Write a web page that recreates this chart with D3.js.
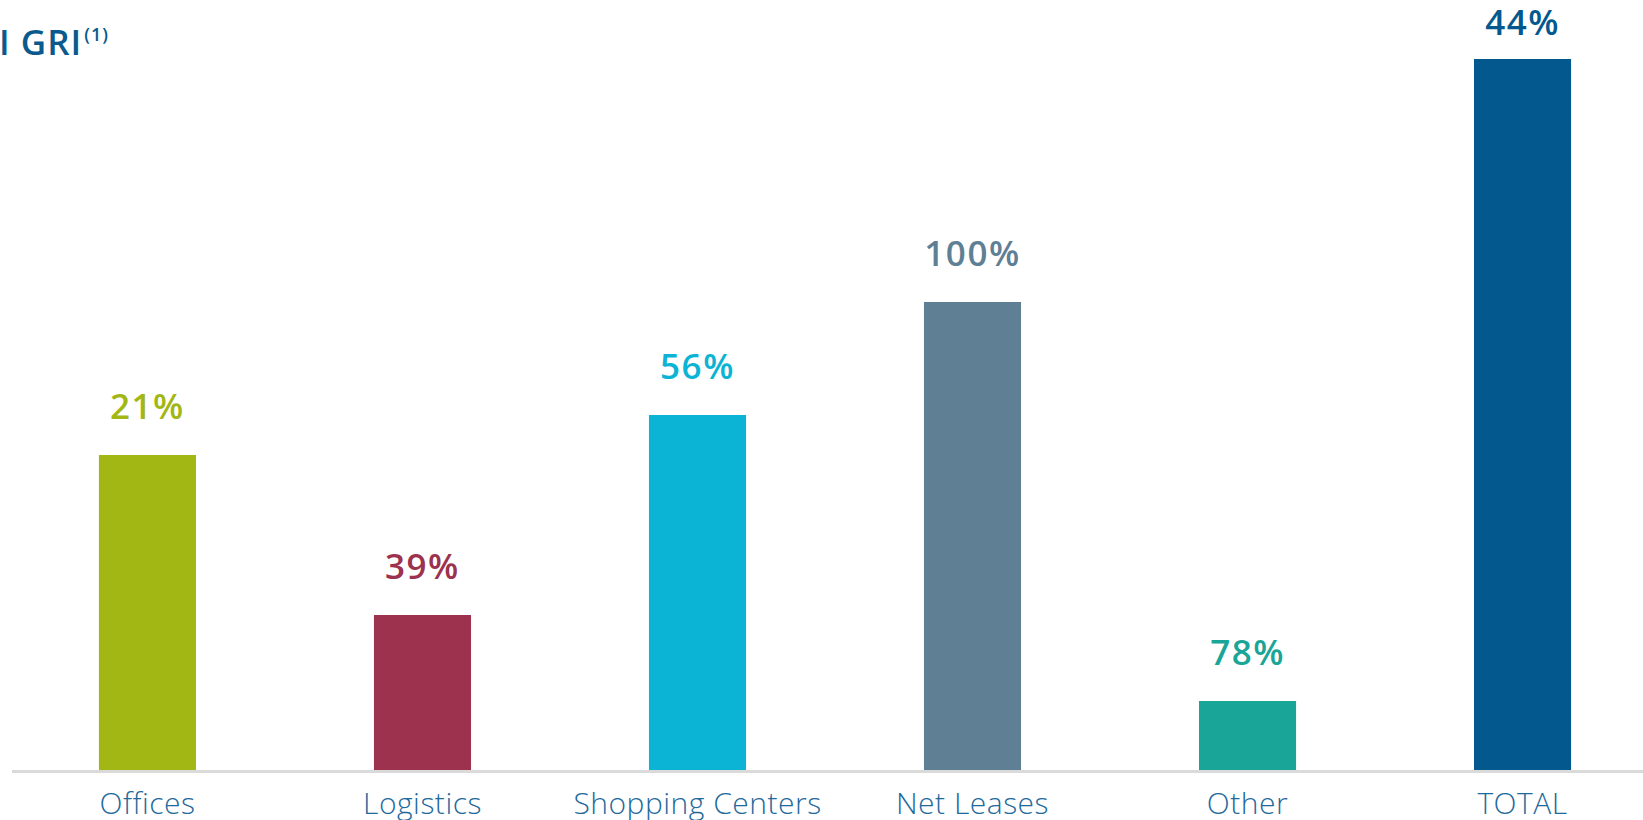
<!DOCTYPE html>
<html>
<head>
<meta charset="utf-8">
<script src="https://cdn.jsdelivr.net/npm/d3@7"></script>
<style>
	html, body { margin: 0; padding: 0; background: #fff; overflow: hidden; }
	svg { display: block; font-family: 'Open Sans', sans-serif; }
</style>
</head>
<body>
<div id="chart"></div>
<script>

// bar heights, labels as printed above each bar
var categories = [ 'Offices', 'Logistics', 'Shopping Centers', 'Net Leases', 'Other', 'TOTAL' ];
var values = [ 315, 155, 355, 468, 69, 711 ];
var labels = [ '21%', '39%', '56%', '100%', '78%', '44%' ];
var colors = [ '#a2b713', '#9c324d', '#0bb3d4', '#5f8094', '#19a597', '#03598e' ];

var width = 1643,
	height = 820;

var chart = {
	baseline: 770,
	top: 59,
	labelGap: 36,
	labelMin: 35
};

var svg = d3.select( '#chart' ).append( 'svg' )
	.attr( 'width', width )
	.attr( 'height', height );

var x = d3.scaleBand()
	.domain( categories )
	.range( [ -79, 1749 ] )
	.padding( 0.647 );

var y = d3.scaleLinear()
	.domain( [ 0, d3.max( values ) ] )
	.range( [ chart.baseline, chart.top ] );

var data = categories.map( function ( c, i ) {
	return { name: c, value: values[i], label: labels[i], color: colors[i] };
} );

// title, cut off on the left like the original slide
var title = svg.append( 'text' )
	.attr( 'x', -1 )
	.attr( 'y', 55 )
	.style( 'font-size', '35px' )
	.style( 'font-weight', 600 )
	.style( 'letter-spacing', '1px' )
	.style( 'fill', '#0a5a8e' );
title.append( 'tspan' ).text( 'I GRI' );
title.append( 'tspan' )
	.attr( 'dy', -14 )
	.attr( 'dx', 2 )
	.style( 'font-size', '18px' )
	.text( '(1)' );

svg.append( 'g' ).selectAll( 'rect' )
	.data( data )
	.join( 'rect' )
	.attr( 'x', function ( d ) { return x( d.name ); } )
	.attr( 'y', function ( d ) { return y( d.value ); } )
	.attr( 'width', x.bandwidth() )
	.attr( 'height', function ( d ) { return y( 0 ) - y( d.value ); } )
	.style( 'fill', function ( d ) { return d.color; } );

svg.append( 'g' ).selectAll( 'text' )
	.data( data )
	.join( 'text' )
	.attr( 'x', function ( d ) { return x( d.name ) + x.bandwidth() / 2; } )
	.attr( 'y', function ( d ) { return Math.max( y( d.value ) - chart.labelGap, chart.labelMin ); } )
	.attr( 'text-anchor', 'middle' )
	.style( 'font-size', '35px' )
	.style( 'font-weight', 600 )
	.style( 'letter-spacing', '1.5px' )
	.style( 'fill', function ( d ) { return d.color; } )
	.text( function ( d ) { return d.label; } );

var xAxis = d3.axisBottom( x ).tickSize( 0 ).tickPadding( 26 );

var axisG = svg.append( 'g' )
	.attr( 'transform', 'translate(0,' + chart.baseline + ')' )
	.call( xAxis );

axisG.select( '.domain' ).remove();
axisG.insert( 'line', ':first-child' )
	.attr( 'x1', 12 )
	.attr( 'x2', width )
	.attr( 'y1', 1.5 )
	.attr( 'y2', 1.5 )
	.style( 'stroke', '#dadada' )
	.style( 'stroke-width', 3 );

axisG.selectAll( '.tick text' )
	.attr( 'dy', 0 )
	.attr( 'y', 44 )
	.style( 'font-family', "'Open Sans', sans-serif" )
	.style( 'font-size', '30px' )
	.style( 'font-weight', 300 )
	.style( 'letter-spacing', '0.5px' )
	.style( 'fill', '#1f6a9c' );

</script>
</body>
</html>
